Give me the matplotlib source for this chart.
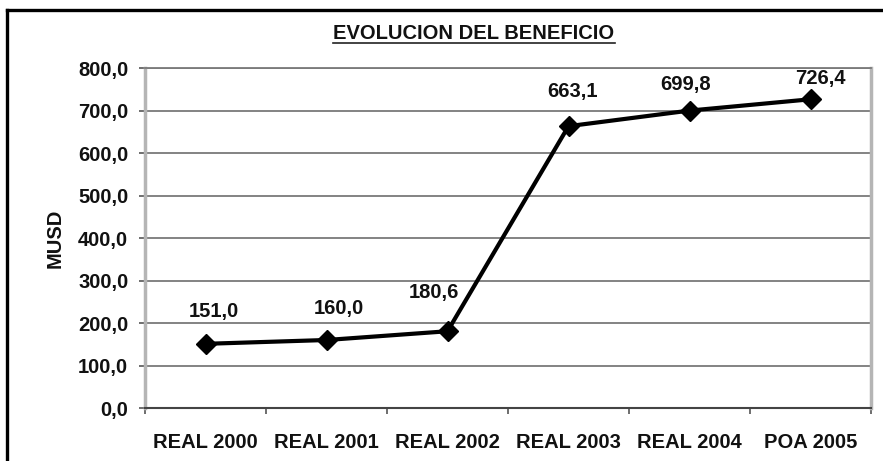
import numpy as np
import matplotlib as mpl
import matplotlib.pyplot as plt
from matplotlib.lines import Line2D

mpl.rcParams.update({'font.family': 'Liberation Sans', 'font.weight': 'bold',
                     'font.size': 14.5})

# data
categories = ['REAL 2000', 'REAL 2001', 'REAL 2002', 'REAL 2003', 'REAL 2004', 'POA 2005']
beneficio = [151.0, 160.0, 180.6, 663.1, 699.8, 726.4]
y_ticks = [0, 100, 200, 300, 400, 500, 600, 700, 800]

# label offsets in points (dx, dy)
label_offsets = [(6, 23), (9, 23), (-10, 28), (3, 25), (-3, 19), (7, 15)]

fig = plt.figure(figsize=(8.83, 4.61), dpi=100)
ax = fig.add_axes([145/883, 1 - 408/461, 726/883, 340/461])

x = np.arange(len(categories))
ax.plot(x, beneficio, color='black', lw=3, marker='D', ms=10,
        markerfacecolor='black', markeredgecolor='black', zorder=5)

for xi, v, (dx, dy) in zip(x, beneficio, label_offsets):
    ax.annotate(('%.1f' % v).replace('.', ','), (xi, v), xytext=(dx, dy),
                textcoords='offset points', ha='center', va='center',
                color='#111111')

ax.set_xlim(-0.5, len(categories) - 0.5)
ax.set_ylim(0, 800)
ax.set_yticks(y_ticks)
ax.set_yticklabels([('%.1f' % t).replace('.', ',') for t in y_ticks], color='#111111')
ax.set_xticks(x)
ax.set_xticklabels(categories, color='#111111')
ax.set_xticks(np.arange(len(categories) + 1) - 0.5, minor=True)
ax.tick_params(axis='x', which='major', length=0, pad=18)
ax.tick_params(axis='x', which='minor', length=4, color='#555555', width=1.2)
ax.tick_params(axis='y', length=4, color='#555555', width=1.2, pad=8)

ax.yaxis.grid(True, color='#7a7a7a', lw=1.3)
ax.set_axisbelow(True)
for side in ['left', 'right']:
    ax.spines[side].set_color('#b5b5b5')
    ax.spines[side].set_linewidth(2.5)
ax.spines['top'].set_color('#7a7a7a')
ax.spines['top'].set_linewidth(1.3)
ax.spines['bottom'].set_color('#444444')
ax.spines['bottom'].set_linewidth(1.5)

fig.text(474/883, 1 - 33/461, 'EVOLUCION DEL BENEFICIO', ha='center', va='center',
         fontsize=14.5, color='#111111')
fig.add_artist(Line2D([333/883, 615/883], [1 - 43/461, 1 - 43/461], color='#222222', lw=1.2))
fig.text(55/883, 1 - 238/461, 'MUSD', rotation=90, ha='center', va='center',
         color='#111111')

# outer frame (cut off at right and bottom)
fig.add_artist(Line2D([7/883, 1.0], [1 - 10/461, 1 - 10/461], color='black', lw=2.4))
fig.add_artist(Line2D([7/883, 7/883], [0.0, 1 - 10/461], color='black', lw=2.4))

plt.savefig('out.png', dpi=100, facecolor='w')
